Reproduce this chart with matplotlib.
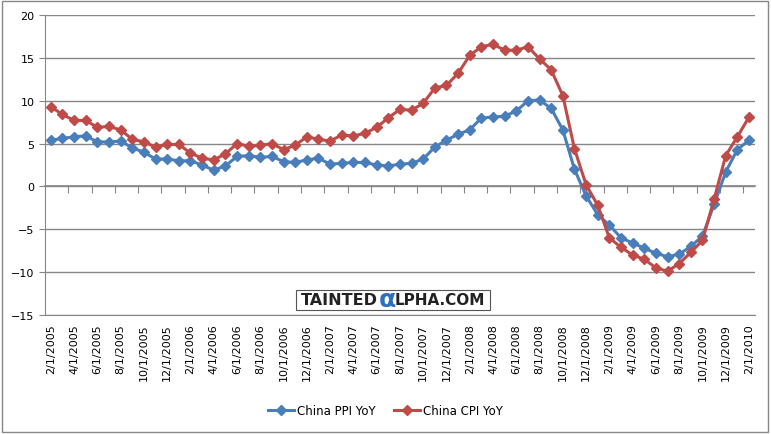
import matplotlib.pyplot as plt
from matplotlib.patches import Rectangle
import numpy as np

# monthly, 2/1/2005 .. 2/1/2010
months = []
for yr in range(2005, 2011):
    for m in range(1, 13):
        if (yr == 2005 and m < 2) or (yr == 2010 and m > 2):
            continue
        months.append("%d/1/%d" % (m, yr))

ppi = [5.4, 5.6, 5.8, 5.9, 5.2, 5.2, 5.3, 4.5, 4.0, 3.2,
       3.2, 3.0, 3.0, 2.5, 1.9, 2.4, 3.5, 3.6, 3.4, 3.5,
       2.9, 2.8, 3.1, 3.3, 2.6, 2.7, 2.8, 2.8, 2.5, 2.4,
       2.6, 2.7, 3.2, 4.6, 5.4, 6.1, 6.6, 8.0, 8.1, 8.2,
       8.8, 10.0, 10.1, 9.1, 6.6, 2.0, -1.1, -3.3, -4.5, -6.0,
       -6.6, -7.2, -7.8, -8.2, -7.9, -7.0, -5.8, -2.1, 1.7, 4.3,
       5.4]
cpi = [9.3, 8.4, 7.7, 7.7, 6.9, 7.0, 6.6, 5.5, 5.2, 4.6,
       4.9, 4.9, 3.9, 3.3, 3.1, 3.8, 5.0, 4.7, 4.8, 5.0,
       4.3, 4.8, 5.8, 5.5, 5.3, 6.0, 5.9, 6.2, 6.9, 8.0,
       9.0, 8.9, 9.7, 11.5, 11.8, 13.2, 15.3, 16.3, 16.6, 15.9,
       15.9, 16.3, 14.9, 13.6, 10.6, 4.4, 0.2, -2.2, -6.0, -7.1,
       -8.0, -8.5, -9.5, -9.9, -9.0, -7.7, -6.3, -1.5, 3.6, 5.8,
       8.1]

blue = "#4A7EBB"
red = "#BE4B48"
grid_c = "#868686"

fig = plt.figure(figsize=(7.71, 4.35), dpi=100)
fig.patches.append(Rectangle((0.002, 0.005), 0.994, 0.99, transform=fig.transFigure,
                             fill=False, edgecolor=grid_c, lw=1))
ax = fig.add_axes([0.0584, 0.2736, 0.9206, 0.6894])

x = np.arange(len(months))
ax.plot(x, ppi, color=blue, lw=2.2, marker="D", ms=5, label="China PPI YoY")
ax.plot(x, cpi, color=red, lw=2.2, marker="D", ms=5, label="China CPI YoY")

ax.set_xlim(-0.5, len(months) - 0.5)
ax.set_ylim(-15, 20)
ax.set_yticks(np.arange(-15, 21, 5))
ax.yaxis.grid(True, color=grid_c, lw=1)
ax.set_axisbelow(True)
for s in ["top", "right"]:
    ax.spines[s].set_visible(False)
ax.spines["left"].set_color(grid_c)
ax.spines["bottom"].set_color(grid_c)
ax.tick_params(axis="y", colors=grid_c, labelcolor="black", labelsize=8, length=4)

ax.set_xticks(x[::2])
ax.set_xticklabels(months[::2], rotation=90, fontsize=8)
ax.tick_params(axis="x", length=0, pad=6)

# category axis crossing at zero
sec = ax.secondary_xaxis(15 / 35)
sec.set_xticks(np.arange(1.5, len(months) - 1, 2))
sec.set_xticklabels([])
sec.spines["bottom"].set_color(grid_c)
sec.spines["bottom"].set_linewidth(1.2)
sec.tick_params(axis="x", direction="out", length=5, color=grid_c)

# watermark
fig.patches.append(Rectangle((296 / 771, 1 - 311 / 435), 194 / 771, 20 / 435,
                             transform=fig.transFigure, facecolor="white",
                             edgecolor="#555555", lw=0.8, zorder=5))
fig.text(301 / 771, 1 - 301 / 435, "TAINTED", fontsize=11.5, fontweight="bold",
         va="center", ha="left", color="#222222", zorder=6)
fig.text(387 / 771, 1 - 300 / 435, "\u03b1", fontsize=18, fontweight="bold",
         va="center", ha="center", color="#2F6FC0", zorder=6)
fig.text(395 / 771, 1 - 301 / 435, "LPHA.COM", fontsize=11, fontweight="bold",
         va="center", ha="left", color="#222222", zorder=6)

fig.legend(loc="center", bbox_to_anchor=(0.5, 0.053), ncol=2, frameon=False,
           fontsize=8.5, handlelength=2.2, handletextpad=0.3, columnspacing=1.5)

fig.savefig("out.png", dpi=100)
